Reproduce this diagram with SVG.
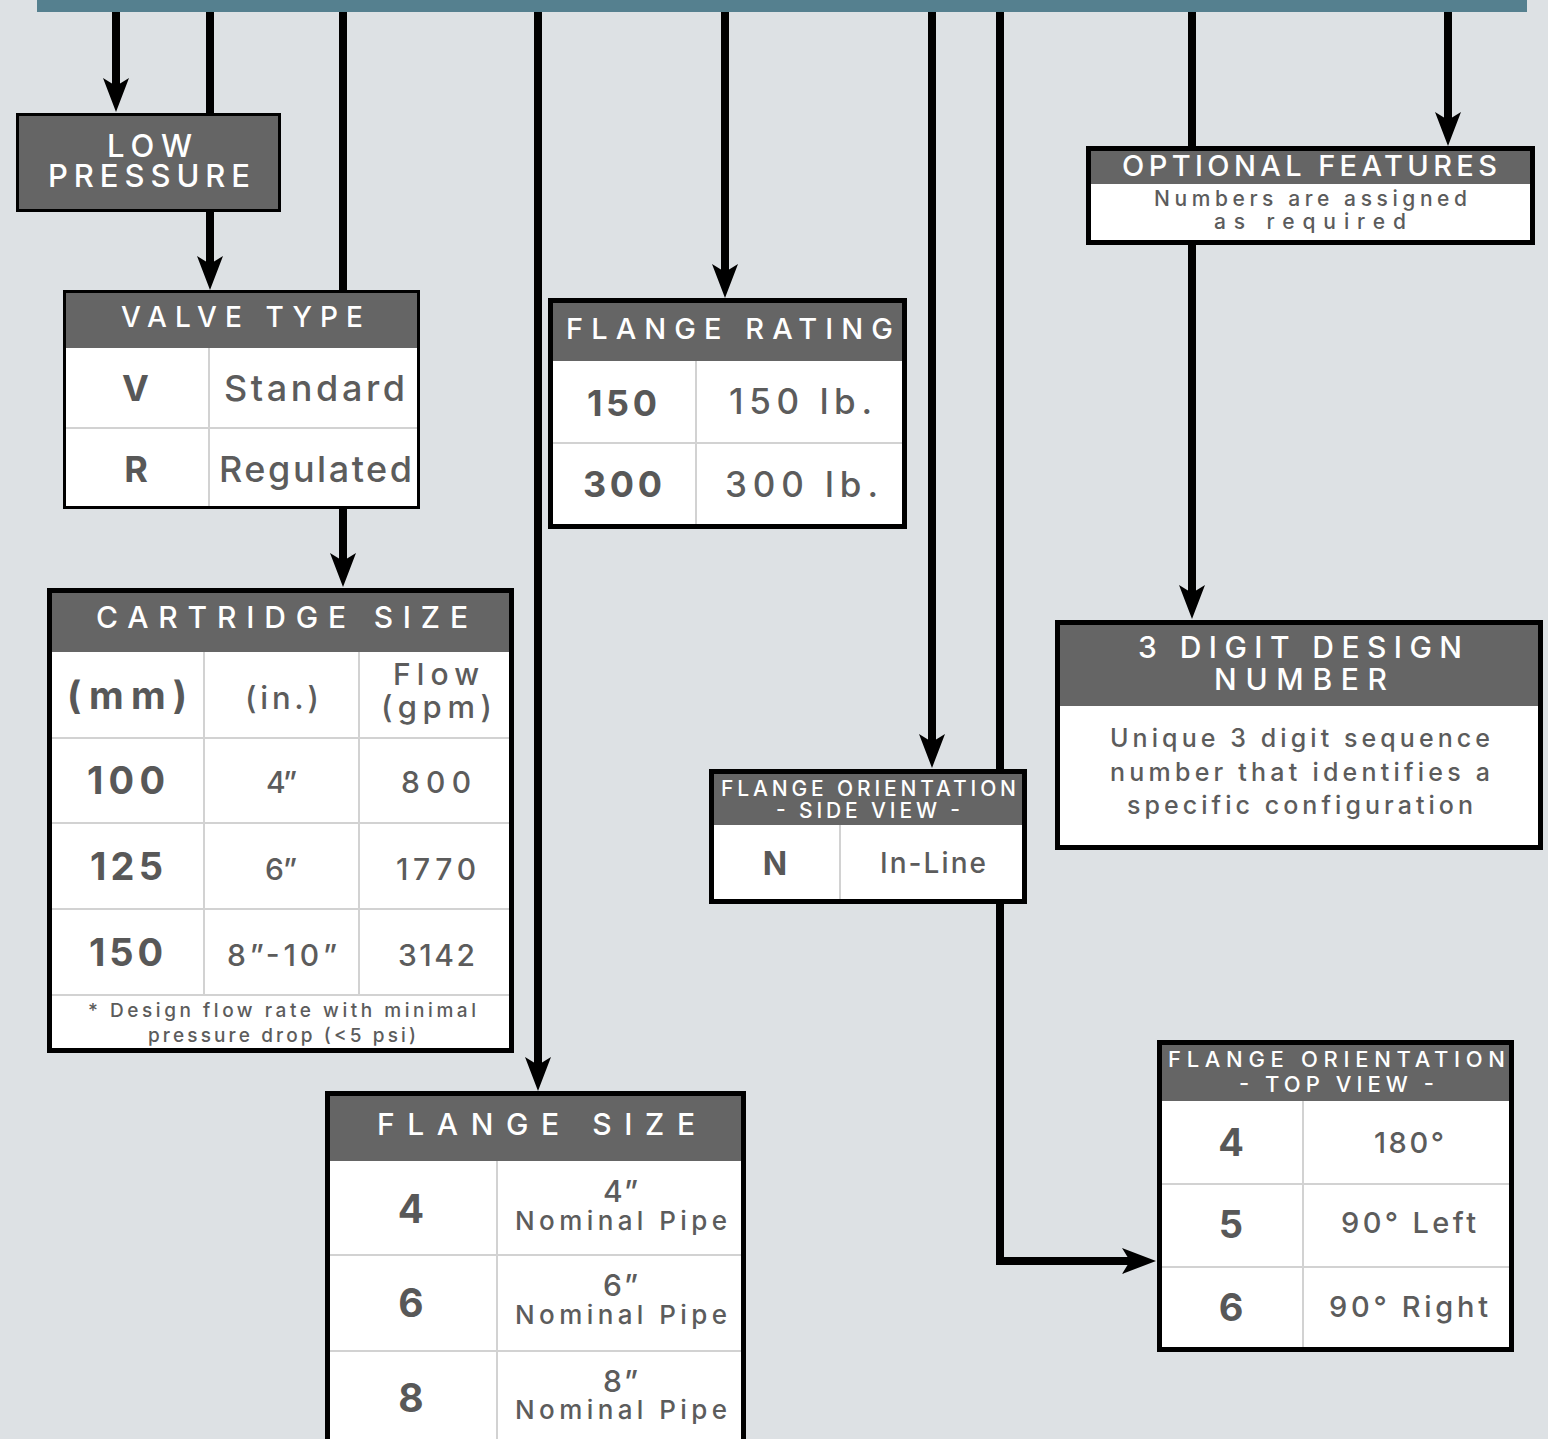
<svg xmlns="http://www.w3.org/2000/svg" width="1548" height="1439" viewBox="0 0 1548 1439">
<defs>
<style>
text{font-family:Inter,"Noto Sans","DejaVu Sans",sans-serif;}
.h{fill:#ffffff;font-weight:500;}
.v{fill:#5c5c5c;font-weight:500;}
.k{fill:#585858;font-weight:700;}
.box{fill:#ffffff;stroke:#000000;}
.hd{fill:#656565;}
.dv{stroke:#d2d2d2;stroke-width:2;fill:none;}
.ln{stroke:#000000;stroke-width:8;fill:none;stroke-linejoin:miter;}
</style>
<marker id="ah" viewBox="0 -13 34 26" markerWidth="34" markerHeight="26" refX="8" refY="0" orient="auto" markerUnits="userSpaceOnUse">
<path d="M0,-13 L34,0 L0,13 L8,0 Z" fill="#000000"/>
</marker>
</defs>
<rect x="0" y="0" width="1548" height="1439" fill="#dde1e4"/>
<rect x="37" y="0" width="1490" height="12" fill="#55808f"/>

<g id="connectors">
<path class="ln" d="M116,12 V86" marker-end="url(#ah)"/>
<path class="ln" d="M210,12 V114"/>
<path class="ln" d="M210,212 V264" marker-end="url(#ah)"/>
<path class="ln" d="M343,12 V291"/>
<path class="ln" d="M343,509 V561" marker-end="url(#ah)"/>
<path class="ln" d="M538,12 V1065" marker-end="url(#ah)"/>
<path class="ln" d="M725,12 V272" marker-end="url(#ah)"/>
<path class="ln" d="M932,12 V742" marker-end="url(#ah)"/>
<path class="ln" d="M1000,12 V770"/>
<path class="ln" d="M1000,903 V1261 H1130" marker-end="url(#ah)"/>
<path class="ln" d="M1192,12 V147"/>
<path class="ln" d="M1192,244 V593" marker-end="url(#ah)"/>
<path class="ln" d="M1448,12 V120" marker-end="url(#ah)"/>
</g>

<g id="low-pressure">
<rect x="17.5" y="114.5" width="262" height="96" fill="#656565" stroke="#000000" stroke-width="3"/>
<text class="h" x="107" y="157" font-size="31" textLength="85" lengthAdjust="spacing">LOW</text>
<text class="h" x="48" y="187" font-size="31" textLength="202" lengthAdjust="spacing">PRESSURE</text>
</g>

<g id="valve-type">
<rect class="box" x="64.5" y="291.5" width="354" height="216" stroke-width="3"/>
<rect class="hd" x="66" y="293" width="351" height="55"/>
<line class="dv" x1="66" y1="428" x2="417" y2="428"/>
<line class="dv" x1="209" y1="348" x2="209" y2="506"/>
<text class="h" x="121" y="327" font-size="28" textLength="242" lengthAdjust="spacing">VALVE TYPE</text>
<text class="k" x="135.5" y="401" font-size="36" text-anchor="middle">V</text>
<text class="v" x="224" y="401" font-size="36" textLength="181" lengthAdjust="spacing">Standard</text>
<text class="k" x="136" y="482" font-size="36" text-anchor="middle">R</text>
<text class="v" x="219" y="482" font-size="36" textLength="193" lengthAdjust="spacing">Regulated</text>
</g>

<g id="cartridge-size">
<rect class="box" x="49.5" y="590.5" width="462" height="460" stroke-width="5"/>
<rect class="hd" x="52" y="593" width="457" height="59"/>
<line class="dv" x1="52" y1="738" x2="509" y2="738"/>
<line class="dv" x1="52" y1="823" x2="509" y2="823"/>
<line class="dv" x1="52" y1="909" x2="509" y2="909"/>
<line class="dv" x1="52" y1="995" x2="509" y2="995"/>
<line class="dv" x1="204" y1="652" x2="204" y2="995"/>
<line class="dv" x1="359" y1="652" x2="359" y2="995"/>
<text class="h" x="96" y="628" font-size="30" textLength="372" lengthAdjust="spacing">CARTRIDGE SIZE</text>
<text class="k" x="67" y="709" font-size="38" textLength="120" lengthAdjust="spacing">(mm)</text>
<text class="v" x="245" y="709" font-size="31" textLength="74" lengthAdjust="spacing">(in.)</text>
<text class="v" x="393" y="685" font-size="30" textLength="86" lengthAdjust="spacing">Flow</text>
<text class="v" x="381" y="718" font-size="31" textLength="111" lengthAdjust="spacing">(gpm)</text>
<text class="k" x="87" y="794" font-size="38" textLength="78" lengthAdjust="spacing">100</text>
<text class="v" x="266" y="793" font-size="30" textLength="31" lengthAdjust="spacing">4”</text>
<text class="v" x="401" y="793" font-size="30" textLength="70" lengthAdjust="spacing">800</text>
<text class="k" x="90" y="880" font-size="38" textLength="73" lengthAdjust="spacing">125</text>
<text class="v" x="265" y="880" font-size="30" textLength="32" lengthAdjust="spacing">6”</text>
<text class="v" x="396" y="880" font-size="30" textLength="80" lengthAdjust="spacing">1770</text>
<text class="k" x="89" y="966" font-size="38" textLength="74" lengthAdjust="spacing">150</text>
<text class="v" x="227" y="966" font-size="30" textLength="110" lengthAdjust="spacing">8”-10”</text>
<text class="v" x="398" y="966" font-size="30" textLength="77" lengthAdjust="spacing">3142</text>
<text class="v" x="88" y="1017" font-size="19" textLength="388" lengthAdjust="spacing">* Design flow rate with minimal</text>
<text class="v" x="148" y="1042" font-size="19" textLength="268" lengthAdjust="spacing">pressure drop (&lt;5 psi)</text>
</g>

<g id="flange-rating">
<rect class="box" x="550.5" y="300.5" width="354" height="226" stroke-width="5"/>
<rect class="hd" x="553" y="303" width="349" height="58"/>
<line class="dv" x1="553" y1="443" x2="902" y2="443"/>
<line class="dv" x1="696" y1="361" x2="696" y2="524"/>
<text class="h" x="566" y="339" font-size="29" textLength="327" lengthAdjust="spacing">FLANGE RATING</text>
<text class="k" x="587" y="416" font-size="36" textLength="70" lengthAdjust="spacing">150</text>
<text class="v" x="729" y="414" font-size="35" textLength="143" lengthAdjust="spacing">150 lb.</text>
<text class="k" x="583" y="497" font-size="36" textLength="79" lengthAdjust="spacing">300</text>
<text class="v" x="725" y="497" font-size="35" textLength="153" lengthAdjust="spacing">300 lb.</text>
</g>

<g id="flange-orientation-side">
<rect class="box" x="711.5" y="771.5" width="313" height="130" stroke-width="5"/>
<rect class="hd" x="714" y="774" width="308" height="51"/>
<line class="dv" x1="840" y1="825" x2="840" y2="899"/>
<text class="h" x="721" y="796" font-size="21" textLength="295" lengthAdjust="spacing">FLANGE ORIENTATION</text>
<text class="h" x="776" y="818" font-size="21" textLength="184" lengthAdjust="spacing">- SIDE VIEW -</text>
<text class="k" x="775" y="875" font-size="32" text-anchor="middle">N</text>
<text class="v" x="880" y="873" font-size="28" textLength="106" lengthAdjust="spacing">In-Line</text>
</g>

<g id="flange-size">
<rect class="box" x="327.5" y="1093.5" width="416" height="380" stroke-width="5"/>
<rect class="hd" x="330" y="1096" width="411" height="65"/>
<line class="dv" x1="330" y1="1255" x2="741" y2="1255"/>
<line class="dv" x1="330" y1="1351" x2="741" y2="1351"/>
<line class="dv" x1="497" y1="1161" x2="497" y2="1439"/>
<text class="h" x="377" y="1135" font-size="30" textLength="318" lengthAdjust="spacing">FLANGE SIZE</text>
<text class="k" x="411" y="1223" font-size="39" text-anchor="middle">4</text>
<text class="v" x="603" y="1202" font-size="30" textLength="35" lengthAdjust="spacing">4”</text>
<text class="v" x="515" y="1230" font-size="26" textLength="212" lengthAdjust="spacing">Nominal Pipe</text>
<text class="k" x="411" y="1317" font-size="39" text-anchor="middle">6</text>
<text class="v" x="603" y="1296" font-size="30" textLength="35" lengthAdjust="spacing">6”</text>
<text class="v" x="515" y="1324" font-size="26" textLength="212" lengthAdjust="spacing">Nominal Pipe</text>
<text class="k" x="411" y="1412" font-size="39" text-anchor="middle">8</text>
<text class="v" x="603" y="1392" font-size="30" textLength="35" lengthAdjust="spacing">8”</text>
<text class="v" x="515" y="1419" font-size="26" textLength="212" lengthAdjust="spacing">Nominal Pipe</text>
</g>

<g id="optional-features">
<rect class="box" x="1088.5" y="148.5" width="444" height="94" stroke-width="5"/>
<rect class="hd" x="1091" y="151" width="439" height="33"/>
<text class="h" x="1122" y="176" font-size="29" textLength="375" lengthAdjust="spacing">OPTIONAL FEATURES</text>
<text class="v" x="1154" y="206" font-size="21" textLength="313" lengthAdjust="spacing">Numbers are assigned</text>
<text class="v" x="1214" y="229" font-size="21" textLength="192" lengthAdjust="spacing">as required</text>
</g>

<g id="design-number">
<rect class="box" x="1057.5" y="622.5" width="483" height="225" stroke-width="5"/>
<rect class="hd" x="1060" y="625" width="478" height="81"/>
<text class="h" x="1138" y="658" font-size="30" textLength="324" lengthAdjust="spacing">3 DIGIT DESIGN</text>
<text class="h" x="1214" y="690" font-size="30" textLength="173" lengthAdjust="spacing">NUMBER</text>
<text class="v" x="1110" y="747" font-size="25" textLength="380" lengthAdjust="spacing">Unique 3 digit sequence</text>
<text class="v" x="1110" y="781" font-size="25" textLength="380" lengthAdjust="spacing">number that identifies a</text>
<text class="v" x="1127" y="814" font-size="25" textLength="346" lengthAdjust="spacing">specific configuration</text>
</g>

<g id="flange-orientation-top">
<rect class="box" x="1159.5" y="1042.5" width="352" height="307" stroke-width="5"/>
<rect class="hd" x="1162" y="1045" width="347" height="56"/>
<line class="dv" x1="1162" y1="1184" x2="1509" y2="1184"/>
<line class="dv" x1="1162" y1="1267" x2="1509" y2="1267"/>
<line class="dv" x1="1303" y1="1101" x2="1303" y2="1347"/>
<text class="h" x="1168" y="1067" font-size="22" textLength="337" lengthAdjust="spacing">FLANGE ORIENTATION</text>
<text class="h" x="1239" y="1092" font-size="22" textLength="195" lengthAdjust="spacing">- TOP VIEW -</text>
<text class="k" x="1231" y="1156" font-size="38" text-anchor="middle">4</text>
<text class="v" x="1374" y="1153" font-size="29" textLength="70" lengthAdjust="spacing">180°</text>
<text class="k" x="1231" y="1238" font-size="38" text-anchor="middle">5</text>
<text class="v" x="1341" y="1233" font-size="29" textLength="135" lengthAdjust="spacing">90° Left</text>
<text class="k" x="1231" y="1321" font-size="38" text-anchor="middle">6</text>
<text class="v" x="1329" y="1317" font-size="29" textLength="159" lengthAdjust="spacing">90° Right</text>
</g>
</svg>
